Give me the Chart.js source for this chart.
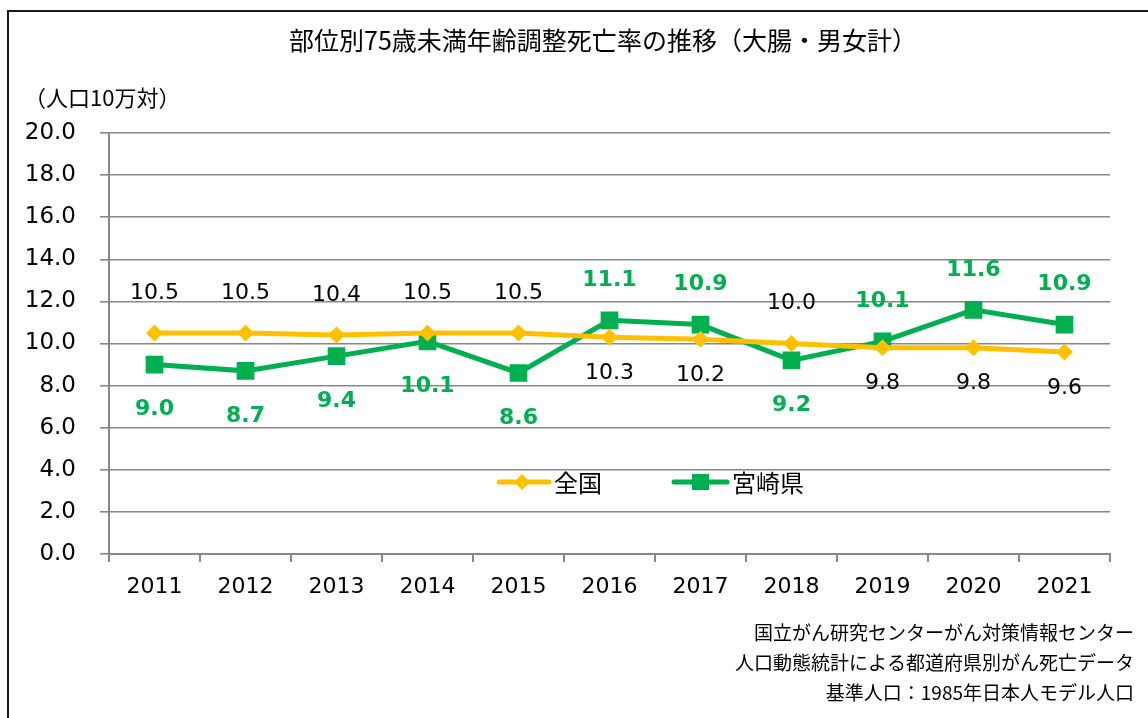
<!DOCTYPE html>
<html>
<head>
<meta charset="utf-8">
<script src="https://cdn.jsdelivr.net/npm/chart.js@4/dist/chart.umd.min.js"></script>
<style>
  html, body { margin: 0; padding: 0; background: #fff; overflow: hidden; }
  #wrap { width: 1148px; height: 718px; position: relative; }
</style>
</head>
<body>
<div id="wrap"><canvas id="c" width="1148" height="718"></canvas></div>
<script>
// ---- data ----
const years = ['2011','2012','2013','2014','2015','2016','2017','2018','2019','2020','2021'];
const zenkoku = [10.5, 10.5, 10.4, 10.5, 10.5, 10.3, 10.2, 10.0, 9.8, 9.8, 9.6];
const miyazaki = [9.0, 8.7, 9.4, 10.1, 8.6, 11.1, 10.9, 9.2, 10.1, 11.6, 10.9];
const seriesNames = ['全国', '宮崎県'];
const titleText = '部位別75歳未満年齢調整死亡率の推移（大腸・男女計）';
const unitText = '（人口10万対）';
const sourceLines = [
  '国立がん研究センターがん対策情報センター',
  '人口動態統計による都道府県別がん死亡データ',
  '基準人口：1985年日本人モデル人口'
];
const yMin = 0, yMax = 20, yStep = 2;

const ORANGE = '#FFC000';
const GREEN = '#00B050';
const GRID = '#888888';
const JP = '"Noto Sans CJK JP", "Noto Sans", sans-serif';
const NUM = '"DejaVu Sans", Verdana, sans-serif';

const labelStyle = [
  { color: '#000', font: 'normal 22px ' + NUM, up: 40, down: 36 },
  { color: GREEN, font: 'bold 22px ' + NUM, up: 40, down: 45 }
];

const decorPlugin = {
  id: 'decor',
  beforeDraw(chart) {
    const ctx = chart.ctx;
    ctx.save();
    ctx.fillStyle = '#fff';
    ctx.fillRect(0, 0, chart.width, chart.height);
    ctx.strokeStyle = '#1a1a1a';
    ctx.lineWidth = 2;
    ctx.beginPath();
    ctx.moveTo(8, 800);
    ctx.lineTo(8, 11);
    ctx.lineTo(1200, 11);
    ctx.stroke();
    ctx.restore();
  },
  afterDraw(chart) {
    const ctx = chart.ctx;
    ctx.save();
    // title
    ctx.fillStyle = '#000';
    ctx.font = '25px ' + JP;
    ctx.textAlign = 'center';
    ctx.textBaseline = 'middle';
    ctx.fillText(titleText, 603, 40);
    // unit
    ctx.font = '22px ' + JP;
    ctx.textAlign = 'left';
    ctx.fillText(unitText, 24, 98);
    // source
    ctx.font = '19px ' + JP;
    ctx.textAlign = 'right';
    sourceLines.forEach((s, i) => ctx.fillText(s, 1134, 633 + i * 30));
    // legend
    const ly = 482;
    ctx.lineCap = 'round';
    ctx.lineWidth = 5;
    ctx.strokeStyle = ORANGE;
    ctx.beginPath(); ctx.moveTo(499, ly); ctx.lineTo(549, ly); ctx.stroke();
    ctx.fillStyle = ORANGE;
    ctx.beginPath();
    ctx.moveTo(522, ly - 8); ctx.lineTo(530, ly); ctx.lineTo(522, ly + 8); ctx.lineTo(514, ly);
    ctx.closePath(); ctx.fill();
    ctx.strokeStyle = GREEN;
    ctx.beginPath(); ctx.moveTo(674, ly); ctx.lineTo(727, ly); ctx.stroke();
    ctx.fillStyle = GREEN;
    ctx.fillRect(692, ly - 8, 17, 16);
    ctx.fillStyle = '#000';
    ctx.font = '24px ' + JP;
    ctx.textAlign = 'left';
    ctx.fillText(seriesNames[0], 554, ly + 1);
    ctx.fillText(seriesNames[1], 732, ly + 1);
    ctx.restore();
  },
  afterDatasetsDraw(chart) {
    const ctx = chart.ctx;
    ctx.save();
    ctx.textAlign = 'center';
    ctx.textBaseline = 'middle';
    const ds = chart.data.datasets;
    ds.forEach((d, di) => {
      const meta = chart.getDatasetMeta(di);
      const st = labelStyle[di];
      const other = ds[1 - di].data;
      ctx.fillStyle = st.color;
      ctx.font = st.font;
      meta.data.forEach((pt, i) => {
        const above = d.data[i] >= other[i];
        const y = above ? pt.y - st.up : pt.y + st.down;
        ctx.fillText(d.data[i].toFixed(1), pt.x, y);
      });
    });
    ctx.restore();
  }
};

new Chart(document.getElementById('c'), {
  type: 'line',
  data: {
    labels: years,
    datasets: [
      {
        label: seriesNames[0], data: zenkoku,
        borderColor: ORANGE, backgroundColor: ORANGE, borderWidth: 5,
        pointStyle: 'rectRot', pointRadius: 8.5, pointBorderWidth: 0,
        pointBackgroundColor: ORANGE, tension: 0
      },
      {
        label: seriesNames[1], data: miyazaki,
        borderColor: GREEN, backgroundColor: GREEN, borderWidth: 5,
        pointStyle: 'rect', pointRadius: 12.5, pointBorderWidth: 0,
        pointBackgroundColor: GREEN, tension: 0
      }
    ]
  },
  options: {
    responsive: false,
    animation: false,
    devicePixelRatio: 1,
    layout: { padding: { left: 0, top: 133, right: 38, bottom: 114 } },
    plugins: { legend: { display: false }, title: { display: false }, tooltip: { enabled: false } },
    scales: {
      x: {
        offset: true,
        grid: { offset: true, drawOnChartArea: false, drawTicks: true, tickLength: 8, color: GRID, lineWidth: 2 },
        border: { display: true, color: GRID, width: 2 },
        ticks: { color: '#000', font: { family: NUM, size: 22 }, padding: 12, maxRotation: 0 },
        afterFit(s) { s.height = 50; }
      },
      y: {
        min: yMin, max: yMax,
        grid: { color: GRID, lineWidth: 1.6, tickLength: 9 },
        border: { display: true, color: GRID, width: 2 },
        ticks: {
          stepSize: yStep, color: '#000', font: { family: NUM, size: 23 }, padding: 24,
          callback: v => Number(v).toFixed(1)
        },
        afterFit(s) { s.width = 109; }
      }
    }
  },
  plugins: [decorPlugin]
});
</script>
</body>
</html>
